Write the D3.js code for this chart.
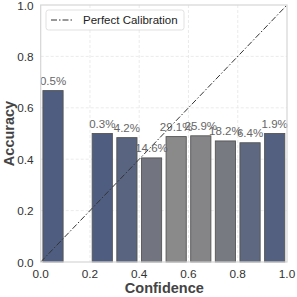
<!DOCTYPE html>
<html><head><meta charset="utf-8">
<script src="https://cdn.jsdelivr.net/npm/d3@7"></script>
<style>body{margin:0;background:#fff}svg{display:block}text{font-family:"Liberation Sans",Arial,sans-serif}</style>
</head><body>
<script>
const binCenters = [0.05,0.15,0.25,0.35,0.45,0.55,0.65,0.75,0.85,0.95];
const accuracy = [0.667,null,0.5,0.484,0.405,0.488,0.491,0.471,0.464,0.5];
const proportion = [0.5,null,0.3,4.2,14.6,29.1,25.9,18.2,6.4,1.9];
const ticks = [0,0.2,0.4,0.6,0.8,1.0];

const W=297,H=297, L=40.7, R=287, T=5, B=262;
const svg=d3.select("body").append("svg").attr("width",W).attr("height",H);
const x=d3.scaleLinear().domain([0,1]).range([L,R]);
const y=d3.scaleLinear().domain([0,1]).range([B,T]);
const maxP=d3.max(proportion);
const color=d3.scaleLinear().domain([0,maxP*0.5,maxP]).range(["#4e5d80","#72757f","#8a8a8a"]).interpolate(d3.interpolateRgb);

// grid
const g=svg.append("g");
g.selectAll(".gx").data(ticks.slice(1,-1)).join("line")
 .attr("x1",d=>x(d)).attr("x2",d=>x(d)).attr("y1",T).attr("y2",B)
 .attr("stroke","#e6e6e6").attr("stroke-dasharray","3,2").attr("stroke-width",0.8);
g.selectAll(".gy").data(ticks.slice(1,-1)).join("line")
 .attr("y1",d=>y(d)).attr("y2",d=>y(d)).attr("x1",L).attr("x2",R)
 .attr("stroke","#e6e6e6").attr("stroke-dasharray","3,2").attr("stroke-width",0.8);

// bars
const data=binCenters.map((c,i)=>({c,a:accuracy[i],p:proportion[i]})).filter(d=>d.a!=null);
svg.selectAll(".bar").data(data).join("rect")
 .attr("x",d=>x(d.c-0.041)).attr("width",x(0.082)-x(0))
 .attr("y",d=>y(d.a)).attr("height",d=>y(0)-y(d.a))
 .attr("fill",d=>color(d.p)).attr("stroke","#555").attr("stroke-width",0.9);

// diagonal
svg.append("line").attr("x1",x(0)).attr("y1",y(0)).attr("x2",x(1)).attr("y2",y(1))
 .attr("stroke","#333").attr("stroke-width",1).attr("stroke-dasharray","6,2,1.5,2");

// labels
svg.selectAll(".lbl").data(data).join("text")
 .attr("x",d=>x(d.c)).attr("y",d=>y(d.a)-6)
 .attr("text-anchor","middle").attr("font-size",11.5).attr("fill","#666")
 .text(d=>d.p.toFixed(1)+"%");

// frame
svg.append("rect").attr("x",L).attr("y",T).attr("width",R-L).attr("height",B-T)
 .attr("fill","none").attr("stroke","#d6d6d6").attr("stroke-width",1.2);

// ticks
svg.selectAll(".xt").data(ticks).join("text")
 .attr("x",d=>x(d)).attr("y",B+15.5).attr("text-anchor","middle")
 .attr("font-size",11.8).attr("fill","#333").text(d=>d.toFixed(1));
svg.selectAll(".yt").data(ticks).join("text")
 .attr("x",L-7).attr("y",d=>y(d)+4.5).attr("text-anchor","end")
 .attr("font-size",11.8).attr("fill","#333").text(d=>d.toFixed(1));

// axis labels
svg.append("text").attr("x",(L+R)/2+0.5).attr("y",292.5).attr("text-anchor","middle")
 .attr("font-size",14.5).attr("font-weight","bold").attr("fill","#444").text("Confidence");
svg.append("text").attr("transform",`translate(14,${(T+B)/2}) rotate(-90)`).attr("text-anchor","middle")
 .attr("font-size",14.5).attr("font-weight","bold").attr("fill","#444").text("Accuracy");

// legend
const lg=svg.append("g");
lg.append("rect").attr("x",46).attr("y",10).attr("width",138).attr("height",20).attr("rx",2.5)
 .attr("fill","#fff").attr("fill-opacity",0.85).attr("stroke","#d9d9d9").attr("stroke-width",0.8);
lg.append("line").attr("x1",51).attr("x2",73).attr("y1",20).attr("y2",20)
 .attr("stroke","#333").attr("stroke-width",1).attr("stroke-dasharray","6,2,1.5,2");
lg.append("text").attr("x",83).attr("y",24).attr("font-size",11.5).attr("fill","#222").text("Perfect Calibration");
</script>
</body></html>
